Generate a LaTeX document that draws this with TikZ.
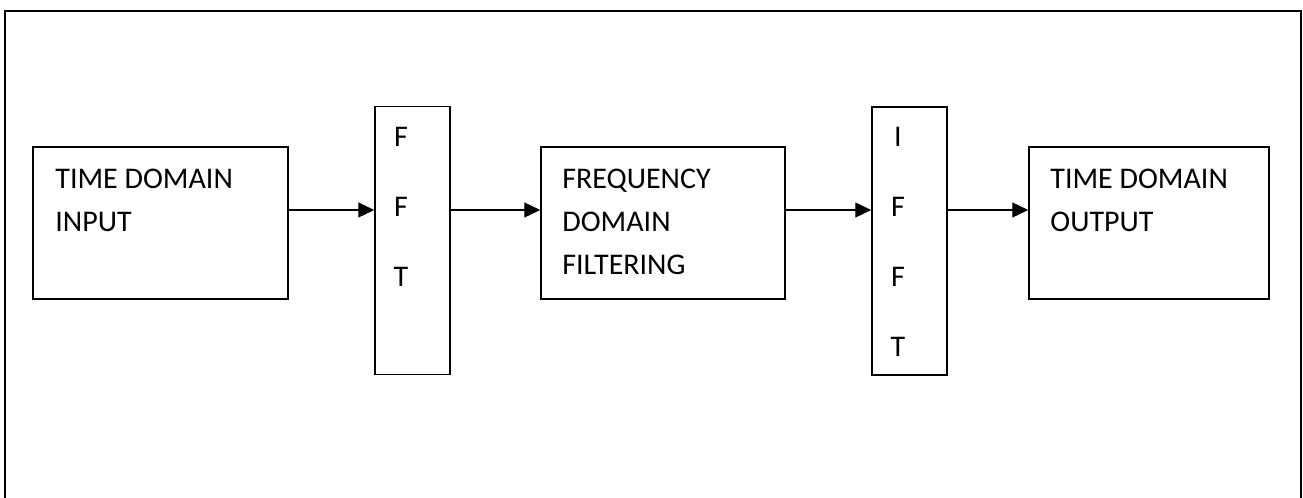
\documentclass[tikz,border=0pt]{standalone}
\usepackage{fontspec}
\setmainfont{Carlito}
\usetikzlibrary{arrows.meta, positioning}
\tikzset{>={Triangle[length=8pt,width=7.5pt]}}
\tikzset{
  block/.style={draw, line width=0.75pt, minimum width=#1, minimum height=76pt, inner sep=0pt},
  slab/.style={draw, line width=0.75pt, minimum width=37.5pt, minimum height=134pt, inner sep=0pt},
  txt/.style={anchor=base west, inner sep=0pt, align=left, font=\fontsize{15}{21.5}\selectfont},
  letters/.style={anchor=base, inner sep=0pt, align=center, font=\fontsize{15}{35}\selectfont},
  flow/.style={->, line width=0.65pt}
}

\begin{document}
\begin{tikzpicture}[x=0.5pt, y=-0.5pt]
      \useasboundingbox (0,0) rectangle (1303,498);
      % outer frame, open at the bottom
      \draw [line width=1pt] (5,510) -- (5,11) -- (1301,11) -- (1301,510);

      \node (in) at (160.5, 223) [block=127.5pt] {};
      \node (fft) at (412.5, 240.5) [slab] {};
      \node (filt) at (663, 223) [block=122pt] {};
      \node (ifft) at (909.5, 241) [slab] {};
      \node (out) at (1149, 223) [block=120pt] {};

      % base anchor sits on the last line
      \node (intxt) at (55, 231) [txt] {TIME DOMAIN\\INPUT};
      \node (filttxt) at (562, 274) [txt] {FREQUENCY\\DOMAIN\\FILTERING};
      \node (outtxt) at (1050, 231) [txt] {TIME DOMAIN\\OUTPUT};
      \node (ffttxt) at (401, 286) [letters] {F\\F\\T};
      \node (iffttxt) at (898, 356) [letters] {I\\F\\F\\T};

      \coordinate (lvl) at (0, 210);
      \draw [flow] (in.east |- lvl) -- (fft.west |- lvl);
      \draw [flow] (fft.east |- lvl) -- (filt.west |- lvl);
      \draw [flow] (filt.east |- lvl) -- (ifft.west |- lvl);
      \draw [flow] (ifft.east |- lvl) -- (out.west |- lvl);
    \end{tikzpicture}
\end{document}
